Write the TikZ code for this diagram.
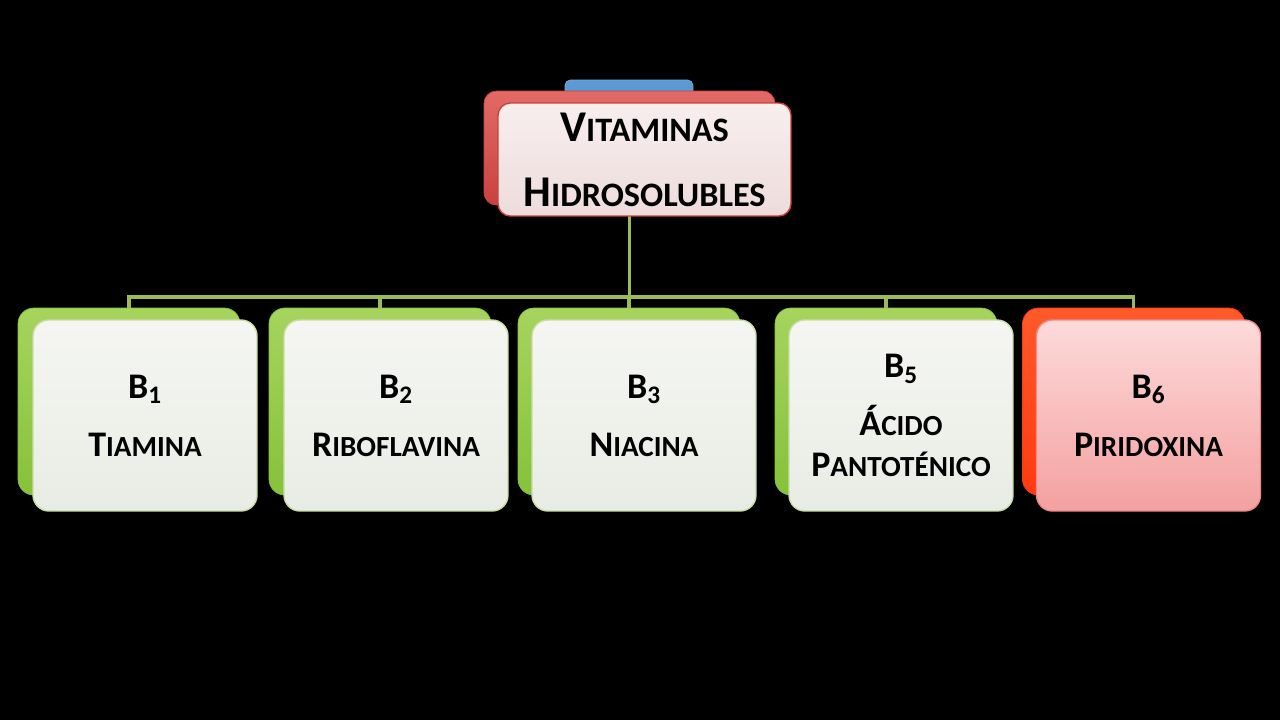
\documentclass[tikz,border=0pt]{standalone}
\usepackage{fontspec}
\setmainfont{Carlito}
\usetikzlibrary{positioning}
\definecolor{leafgreen}{HTML}{86C23A}
\definecolor{leaflight}{HTML}{A6D45E}
\definecolor{linkgreen}{HTML}{9BBB59}
\definecolor{cardtop}{HTML}{F5F6F2}
\definecolor{cardbot}{HTML}{E9ECE5}
\definecolor{cardline}{HTML}{C9DDA6}
\definecolor{firered}{HTML}{FF3A10}
\definecolor{firelight}{HTML}{FF5A2A}
\definecolor{pinktop}{HTML}{FDDADA}
\definecolor{pinkbot}{HTML}{F4A0A0}
\definecolor{pinkline}{HTML}{F08A8A}
\definecolor{brickred}{HTML}{C9423E}
\definecolor{bricklight}{HTML}{E26A66}
\definecolor{titletop}{HTML}{F8EEEE}
\definecolor{titlebot}{HTML}{EEDCDC}
\definecolor{tabblue}{HTML}{5B9BD5}
\newcommand{\bigsc}[2]{{\fontsize{25}{37}\selectfont #1}{\fontsize{19.5}{37}\selectfont #2}}
\newcommand{\boxsc}[2]{{\fontsize{20.5}{23.3}\selectfont #1}{\fontsize{16.6}{23.3}\selectfont #2}}
\tikzset{
  gback/.style   = {rounded corners=9pt, top color=leaflight, bottom color=leafgreen,
                    draw=leafgreen, minimum width=4.44cm, minimum height=3.74cm},
  oback/.style   = {gback, top color=firelight, bottom color=firered, draw=firered},
  redback/.style = {rounded corners=7pt, top color=bricklight, bottom color=brickred,
                    draw=brickred, minimum width=5.82cm, minimum height=2.28cm},
  tab/.style     = {rounded corners=3pt, fill=tabblue, draw=tabblue!80!white,
                    minimum width=2.56cm, minimum height=0.4cm},
  gcard/.style   = {rounded corners=9pt, top color=cardtop, bottom color=cardbot,
                    draw=cardline, line width=0.8pt, align=center,
                    minimum width=4.48cm, minimum height=3.82cm,
                    font=\fontsize{20.5}{23.3}\selectfont\bfseries},
  pcard/.style   = {gcard, top color=pinktop, bottom color=pinkbot, draw=pinkline},
  topcard/.style = {rounded corners=7pt, top color=titletop, bottom color=titlebot,
                    draw=brickred, line width=0.8pt, align=center,
                    minimum width=5.86cm, minimum height=2.26cm,
                    font=\fontsize{25}{37}\selectfont\bfseries},
  link/.style    = {draw=linkgreen, line width=1.9pt}
}
\begin{document}
\begin{tikzpicture}[x=0.02cm, y=-0.02cm]
% Background
\fill[black] (0,0) rectangle (1280,720);
% Title: tab and back plate
\node[tab] (vittab) at (629,90) {};
\node[redback] (vitback) at (629.5,148) {};
% Back plates of the vitamins
\foreach \i/\x/\kind in {1/129/gback, 2/380/gback, 3/629/gback, 4/886/gback, 5/1133.5/oback}
  \node[\kind] (back\i) at (\x,401.5) {};
% Connectors
\coordinate (bus) at (629.5,297);
\draw[link] (vitback.south) -- (vitback.south |- bus);
\foreach \i in {1,...,5}
  \draw[link] (vitback.south |- bus) -| (back\i.north);
% Front cards
\node[topcard] (vit) at (644.5,159.5) {\bigsc{V}{ITAMINAS}\\\bigsc{H}{IDROSOLUBLES}};
\foreach \i/\x/\kind/\txt in {
    1/145/gcard/{B\textsubscript{1}\\[9.7pt]\boxsc{T}{IAMINA}},
    2/396/gcard/{B\textsubscript{2}\\[9.7pt]\boxsc{R}{IBOFLAVINA}},
    3/644/gcard/{B\textsubscript{3}\\[9.7pt]\boxsc{N}{IACINA}},
    4/901/gcard/{B\textsubscript{5}\\[9.7pt]\boxsc{Á}{CIDO}\\\boxsc{P}{ANTOTÉNICO}},
    5/1148.5/pcard/{B\textsubscript{6}\\[9.7pt]\boxsc{P}{IRIDOXINA}}}
  \node[\kind] (card\i) at (\x,415.5) {\txt};
\end{tikzpicture}
\end{document}
